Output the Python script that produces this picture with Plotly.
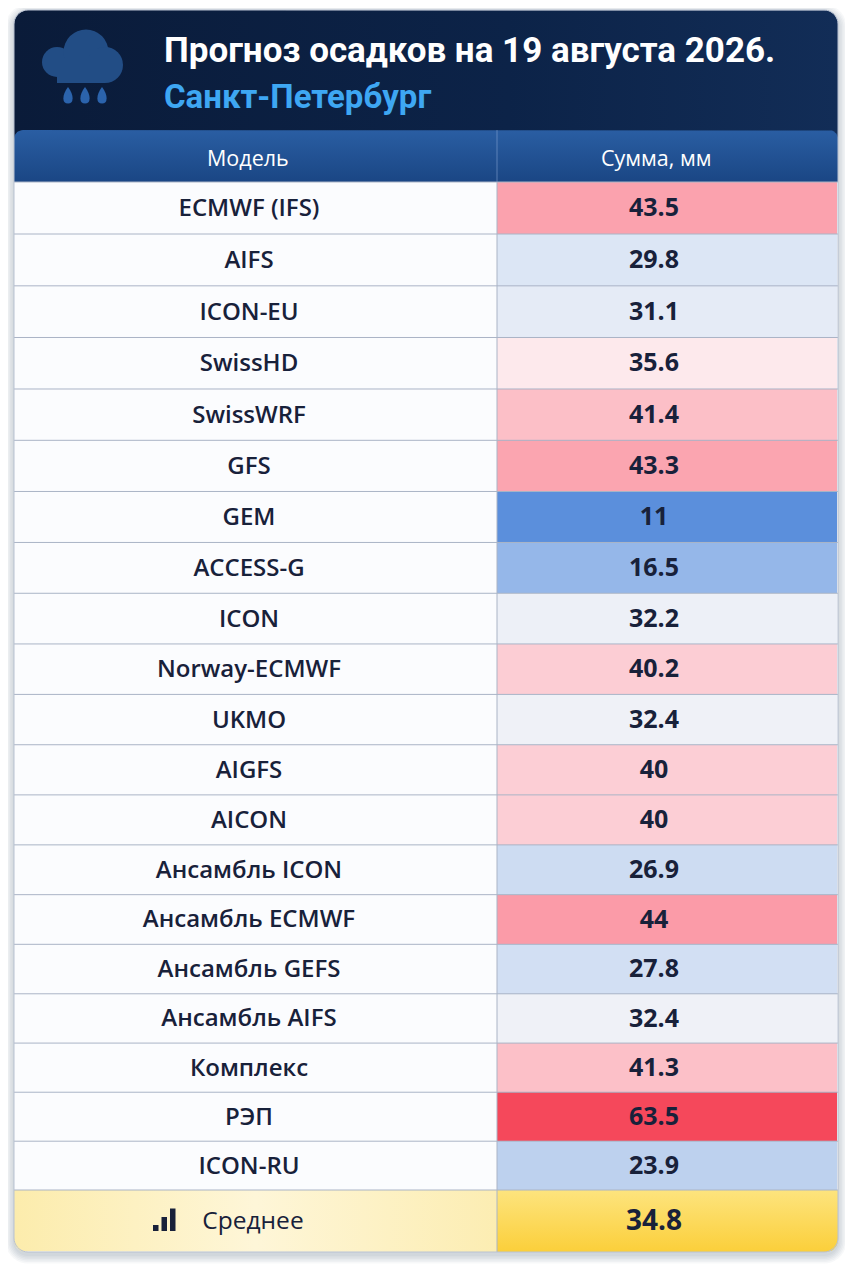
import numpy as np
import plotly.graph_objects as go

# ---------------- data ----------------
models = ["ECMWF (IFS)", "AIFS", "ICON-EU", "SwissHD", "SwissWRF", "GFS", "GEM",
          "ACCESS-G", "ICON", "Norway-ECMWF", "UKMO", "AIGFS", "AICON",
          "Ансамбль ICON", "Ансамбль ECMWF", "Ансамбль GEFS", "Ансамбль AIFS",
          "Комплекс", "РЭП", "ICON-RU"]
totals = [43.5, 29.8, 31.1, 35.6, 41.4, 43.3, 11, 16.5, 32.2, 40.2, 32.4, 40,
          40, 26.9, 44, 27.8, 32.4, 41.3, 63.5, 23.9]
col_headers = ["Модель", "Сумма, мм"]
mean_label = "Среднее"
title_text = "Прогноз осадков на 19 августа 2026."
subtitle_text = "Санкт-Петербург"

# diverging colour scale anchors (value, colour)
scale_values = [11, 16.5, 24, 29.8, 33, 35.6, 40.5, 44, 63.5]
scale_colors = ["#5b8fdc", "#95b7e9", "#bed1ee", "#dce6f5", "#f3f3f8",
                "#fde9ec", "#fccbd2", "#fb9ba8", "#f5485b"]

mean_value = float(np.mean(totals))

# ---------------- layout geometry (page pixel units) ----------------
PAGE_W, PAGE_H, BODY_MARGIN = 853, 1280, 8
X0, X1, XDIV = 14, 838, 497
CARD_TOP, HEAD_TOP, BODY_TOP = 10, 130, 182
row_h = np.linspace(52, 48.8, len(models))
edges = BODY_TOP + np.concatenate([[0], np.cumsum(row_h)])
BODY_BOT = edges[-1]
AVG_BOT = BODY_BOT + 62
centers = (edges[:-1] + edges[1:]) / 2
TEXT_DY = 2
XC_NAME, XC_VAL = 249, 654
TXT = "#18213a"


def rounded(x0, x1, y0, y1, tl=0, tr=0, br=0, bl=0, n=10):
    xs, ys = [], []
    for (cx, cy, r, a0) in [(x0 + tl, y0 + tl, tl, 180), (x1 - tr, y0 + tr, tr, 270),
                            (x1 - br, y1 - br, br, 0), (x0 + bl, y1 - bl, bl, 90)]:
        for a in np.linspace(a0, a0 + 90, n):
            t = np.radians(a)
            xs.append(cx + r * np.cos(t))
            ys.append(cy + r * np.sin(t))
    xs.append(xs[0]); ys.append(ys[0])
    return xs, ys


def path_of(xs, ys):
    return "M " + " L ".join(f"{x:.2f},{y:.2f}" for x, y in zip(xs, ys)) + " Z"


fig = go.Figure()
shapes = []

# card shadow
for k in range(6):
    e = 1 + k * 1.5
    xs, ys = rounded(X0 - e, X1 + e, CARD_TOP - e + 3, AVG_BOT + e + 3, 14 + e, 14 + e, 14 + e, 14 + e)
    shapes.append(dict(type="path", path=path_of(xs, ys), fillcolor="rgba(30,50,90,0.035)",
                       line=dict(width=0), layer="below"))
# card base
xs, ys = rounded(X0, X1, CARD_TOP, AVG_BOT, 14, 14, 14, 14)
shapes.append(dict(type="path", path=path_of(xs, ys), fillcolor="#fbfcfe",
                   line=dict(width=0), layer="below"))

# navy title block
xs, ys = rounded(X0, X1, CARD_TOP, HEAD_TOP + 12, 14, 14, 0, 0)
fig.add_trace(go.Scatter(x=xs, y=ys, mode="lines", fill="toself", line=dict(width=0),
                         fillgradient=dict(type="horizontal",
                                           colorscale=[[0, "#0a1b39"], [0.6, "#0c2348"], [1, "#122d57"]]),
                         hoverinfo="skip", showlegend=False))
# table header block
xs, ys = rounded(X0, X1, HEAD_TOP, BODY_TOP, 9, 9, 0, 0)
fig.add_trace(go.Scatter(x=xs, y=ys, mode="lines", fill="toself", line=dict(width=0),
                         fillgradient=dict(type="vertical",
                                           colorscale=[[0, "#1a4684"], [1, "#2a5ea3"]]),
                         hoverinfo="skip", showlegend=False))

# value column heat cells
lo, hi = min(scale_values), max(scale_values)
cscale = [[(v - lo) / (hi - lo), c] for v, c in zip(scale_values, scale_colors)]
fig.add_trace(go.Heatmap(x=[XDIV, X1 - 1], y=edges, z=[[v] for v in totals],
                         colorscale=cscale, zmin=lo, zmax=hi, showscale=False,
                         hoverinfo="skip"))

# average row
xs, ys = rounded(X0, XDIV, BODY_BOT, AVG_BOT, 0, 0, 0, 12)
fig.add_trace(go.Scatter(x=xs, y=ys, mode="lines", fill="toself", line=dict(width=0),
                         fillgradient=dict(type="horizontal",
                                           colorscale=[[0, "#fcecac"], [0.5, "#fef6d8"], [1, "#fcedb2"]]),
                         hoverinfo="skip", showlegend=False))
xs, ys = rounded(XDIV, X1, BODY_BOT, AVG_BOT, 0, 0, 12, 0)
fig.add_trace(go.Scatter(x=xs, y=ys, mode="lines", fill="toself", line=dict(width=0),
                         fillgradient=dict(type="vertical",
                                           colorscale=[[0, "#fbcf3a"], [1, "#fde47e"]]),
                         hoverinfo="skip", showlegend=False))

# grid lines
for e in edges:
    shapes.append(dict(type="line", x0=X0, x1=X1, y0=e, y1=e,
                       line=dict(color="#aab4c6", width=1), layer="above"))
shapes.append(dict(type="line", x0=XDIV, x1=XDIV, y0=HEAD_TOP, y1=BODY_TOP,
                   line=dict(color="rgba(140,170,215,0.55)", width=1), layer="above"))
shapes.append(dict(type="line", x0=XDIV, x1=XDIV, y0=BODY_TOP, y1=AVG_BOT,
                   line=dict(color="#aab4c6", width=1), layer="above"))
# card border
xs, ys = rounded(X0, X1, CARD_TOP, AVG_BOT, 14, 14, 14, 14)
shapes.append(dict(type="path", path=path_of(xs, ys), line=dict(color="#b9c2d2", width=1),
                   layer="above"))

# cloud icon
cloud = "#224d85"
for cx, cy, r in [(57, 62, 15), (86, 52, 22.5), (105, 65, 18)]:
    shapes.append(dict(type="circle", x0=cx - r, x1=cx + r, y0=cy - r, y1=cy + r,
                       fillcolor=cloud, line=dict(width=0), layer="above"))
shapes.append(dict(type="rect", x0=57, x1=105, y0=58, y1=83, fillcolor=cloud,
                   line=dict(width=0), layer="above"))
for cx in (68, 85, 102):
    shapes.append(dict(type="path",
                       path=f"M {cx},87 Q {cx+4.6},93 {cx+4.6},98.5 Q {cx+4.6},103.5 {cx},103.5 "
                            f"Q {cx-4.6},103.5 {cx-4.6},98.5 Q {cx-4.6},93 {cx},87 Z",
                       fillcolor="#2b63ac", line=dict(width=0), layer="above"))

# bar icon in average row
ymid = (BODY_BOT + AVG_BOT) / 2
for bx, bh in [(153, 6), (161.5, 14), (170, 22.5)]:
    shapes.append(dict(type="rect", x0=bx, x1=bx + 5.5, y0=ymid + 10 - bh, y1=ymid + 10,
                       fillcolor=TXT, line=dict(width=0), layer="above"))

# text
fig.add_trace(go.Scatter(x=[XC_NAME] * len(models), y=centers + TEXT_DY, mode="text", text=models,
                         textposition="middle center", cliponaxis=False,
                         textfont=dict(family="Open Sans", size=24, color=TXT, weight=600),
                         hoverinfo="skip", showlegend=False))
fig.add_trace(go.Scatter(x=[XC_VAL] * len(totals), y=centers + TEXT_DY, mode="text",
                         text=[f"{v:g}" for v in totals],
                         textposition="middle center", cliponaxis=False,
                         textfont=dict(family="Open Sans", size=25, color=TXT, weight=700),
                         hoverinfo="skip", showlegend=False))
fig.add_trace(go.Scatter(x=[253], y=[ymid + TEXT_DY], mode="text", text=[mean_label],
                         textposition="middle center", cliponaxis=False,
                         textfont=dict(family="Open Sans", size=24.5, color=TXT, weight=500),
                         hoverinfo="skip", showlegend=False))
fig.add_trace(go.Scatter(x=[XC_VAL], y=[ymid + TEXT_DY], mode="text", text=[f"{mean_value:.1f}"],
                         textposition="middle center", cliponaxis=False,
                         textfont=dict(family="Open Sans", size=28, color=TXT, weight=700),
                         hoverinfo="skip", showlegend=False))

annotations = [
    dict(x=162, y=50, text=f"<b>{title_text}</b>", showarrow=False, xanchor="left",
         yanchor="middle", font=dict(family="Roboto", size=35, color="#ffffff")),
    dict(x=162, y=96, text=f"<b>{subtitle_text}</b>", showarrow=False, xanchor="left",
         yanchor="middle", font=dict(family="Roboto", size=33, color="#3ea7f3")),
    dict(x=248, y=(HEAD_TOP + BODY_TOP) / 2 + 1, text=col_headers[0], showarrow=False,
         font=dict(family="Open Sans", size=21.5, color="#ffffff", weight=500)),
    dict(x=656, y=(HEAD_TOP + BODY_TOP) / 2 + 1, text=col_headers[1], showarrow=False,
         font=dict(family="Open Sans", size=21.5, color="#ffffff", weight=500)),
]
for a in annotations:
    a.update(xref="x", yref="y")

# the page body has an 8px margin: size the figure so page pixels map 1:1 onto axis units
fig.update_layout(
    width=PAGE_W - 2 * BODY_MARGIN, height=PAGE_H - 2 * BODY_MARGIN,
    margin=dict(l=0, r=0, t=0, b=0),
    paper_bgcolor="#ffffff", plot_bgcolor="#ffffff",
    xaxis=dict(range=[BODY_MARGIN, PAGE_W - BODY_MARGIN], visible=False, fixedrange=True),
    yaxis=dict(range=[PAGE_H - BODY_MARGIN, BODY_MARGIN], visible=False, fixedrange=True),
    shapes=shapes, annotations=annotations, showlegend=False,
)
fig.write_html("out.html")
